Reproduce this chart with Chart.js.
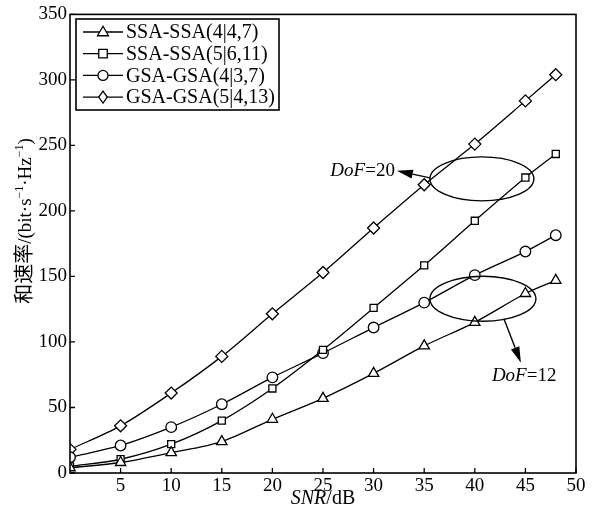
<!DOCTYPE html>
<html lang="zh">
<head>
  <meta charset="UTF-8" />
  <title>和速率 vs SNR</title>
  <script src="https://cdn.jsdelivr.net/npm/chart.js"></script>
  <style>
    body { margin: 0; background: white; }
    .wrap { width: 596px; height: 518px; }
  </style>
</head>
<body>
  <div class="wrap"><canvas id="rateChart" width="596" height="518"></canvas></div>

  <script>
    // data
    const snr = [0, 5, 10, 15, 20, 25, 30, 35, 40, 45, 48];
    const ssa447 = [4, 8, 15.5, 24, 41, 57, 76, 97, 115, 137, 147];
    const ssa5611 = [5, 10.5, 22, 40, 64.5, 94, 126, 158.5, 192.5, 225.5, 243.5];
    const gsa437 = [12, 21, 35, 52.5, 73, 91.5, 111, 130, 151, 169, 181.5];
    const gsa5413 = [18, 36, 61, 89, 121.5, 153, 187, 220, 251, 284, 304];
    const seriesNames = ['SSA-SSA(4|4,7)', 'SSA-SSA(5|6,11)', 'GSA-GSA(4|3,7)', 'GSA-GSA(5|4,13)'];
    const markers = ['triangle', 'rect', 'circle', 'rectRot'];
    const xTicks = [5, 10, 15, 20, 25, 30, 35, 40, 45, 50];
    const yTicks = [0, 50, 100, 150, 200, 250, 300, 350];

    const serif = '"Liberation Serif", "Times New Roman", serif';
    const cjk = '"Noto Sans CJK SC", serif';

    function pts(ys) { return snr.map((x, i) => ({ x: x, y: ys[i] })); }

    function drawMarker(ctx, style, x, y, r) {
      ctx.beginPath();
      if (style === 'triangle') {
        ctx.moveTo(x, y - r * 1.15);
        ctx.lineTo(x + r * 1.1, y + r * 0.75);
        ctx.lineTo(x - r * 1.1, y + r * 0.75);
        ctx.closePath();
      } else if (style === 'rect') {
        ctx.rect(x - r * 0.85, y - r * 0.85, r * 1.7, r * 1.7);
      } else if (style === 'circle') {
        ctx.arc(x, y, r, 0, Math.PI * 2);
      } else {
        ctx.moveTo(x, y - r * 1.2);
        ctx.lineTo(x + r * 0.85, y);
        ctx.lineTo(x, y + r * 1.2);
        ctx.lineTo(x - r * 0.85, y);
        ctx.closePath();
      }
      ctx.fillStyle = 'white';
      ctx.fill();
      ctx.stroke();
    }

    // draw a run of [text, font, dy] pieces
    function drawRuns(ctx, runs, x, y) {
      let cx = x;
      runs.forEach(r => {
        ctx.font = r[1];
        ctx.fillText(r[0], cx, y + (r[2] || 0));
        cx += ctx.measureText(r[0]).width;
      });
      return cx;
    }
    function runsWidth(ctx, runs) {
      let w = 0;
      runs.forEach(r => { ctx.font = r[1]; w += ctx.measureText(r[0]).width; });
      return w;
    }

    function arrow(ctx, x1, y1, x2, y2) {
      const a = Math.atan2(y2 - y1, x2 - x1);
      const hl = 16, hw = 4.5;
      const bx = x2 - hl * Math.cos(a), by = y2 - hl * Math.sin(a);
      ctx.beginPath();
      ctx.moveTo(x1, y1);
      ctx.lineTo(bx, by);
      ctx.stroke();
      ctx.beginPath();
      ctx.moveTo(x2, y2);
      ctx.lineTo(bx + hw * Math.sin(a), by - hw * Math.cos(a));
      ctx.lineTo(bx - hw * Math.sin(a), by + hw * Math.cos(a));
      ctx.closePath();
      ctx.fillStyle = 'black';
      ctx.fill();
    }

    const decor = {
      id: 'decor',
      afterDatasetsDraw(chart) {
        const ctx = chart.ctx;
        const a = chart.chartArea;
        const xs = chart.scales.x, ys = chart.scales.y;
        ctx.save();
        ctx.strokeStyle = 'black';
        ctx.fillStyle = 'black';

        // frame
        ctx.lineWidth = 1.6;
        ctx.strokeRect(a.left, a.top, a.right - a.left, a.bottom - a.top);

        // inward ticks
        ctx.lineWidth = 1.3;
        ctx.beginPath();
        xTicks.forEach(v => {
          const px = xs.getPixelForValue(v);
          ctx.moveTo(px, a.bottom);
          ctx.lineTo(px, a.bottom - 5);
        });
        yTicks.forEach(v => {
          const py = ys.getPixelForValue(v);
          ctx.moveTo(a.left, py);
          ctx.lineTo(a.left + 5, py);
        });
        ctx.stroke();

        // legend
        const lx = 76, ly = 19, lw = 203, lh = 91;
        ctx.fillStyle = 'white';
        ctx.fillRect(lx, ly, lw, lh);
        ctx.lineWidth = 1.6;
        ctx.strokeRect(lx, ly, lw, lh);
        ctx.lineWidth = 1.3;
        seriesNames.forEach((name, i) => {
          const y = 32 + i * 21.7;
          ctx.beginPath();
          ctx.moveTo(83, y);
          ctx.lineTo(123, y);
          ctx.stroke();
          drawMarker(ctx, markers[i], 103, y, 5);
          ctx.fillStyle = 'black';
          ctx.font = '20px ' + serif;
          ctx.textBaseline = 'middle';
          ctx.textAlign = 'left';
          ctx.fillText(name, 126, y + 1);
        });

        // annotations: ellipses, arrows, DoF labels
        ctx.lineWidth = 1.4;
        const e1x = xs.getPixelForValue(40.7), e1y = ys.getPixelForValue(224.5);
        ctx.beginPath();
        ctx.ellipse(e1x, e1y, 52, 22, 0, 0, Math.PI * 2);
        ctx.stroke();
        arrow(ctx, e1x - 52, e1y - 1, e1x - 85, e1y - 8);
        const e2x = xs.getPixelForValue(40.8), e2y = ys.getPixelForValue(133);
        ctx.beginPath();
        ctx.ellipse(e2x, e2y, 53, 22.5, 0, 0, Math.PI * 2);
        ctx.stroke();
        arrow(ctx, e2x + 21, e2y + 20, e2x + 38, e2y + 64);

        ctx.textBaseline = 'middle';
        ctx.fillStyle = 'black';
        const dof20 = [['DoF', 'italic 19px ' + serif], ['=20', '19px ' + serif]];
        drawRuns(ctx, dof20, e1x - 87 - runsWidth(ctx, dof20), e1y - 8);
        const dof12 = [['DoF', 'italic 19px ' + serif], ['=12', '19px ' + serif]];
        drawRuns(ctx, dof12, e2x + 9, e2y + 77);

        // axis titles
        const xt = [['SNR', 'italic 20px ' + serif], ['/dB', '20px ' + serif]];
        ctx.textBaseline = 'alphabetic';
        drawRuns(ctx, xt, (a.left + a.right) / 2 - runsWidth(ctx, xt) / 2, 504);

        const f = '19px ' + serif, fs = '12px ' + serif;
        const yt = [['和速率', '20px ' + cjk], ['/(bit·s', f], ['−1', fs, -8], ['·Hz', f], ['−1', fs, -8], [')', f]];
        ctx.translate(31, 221);
        ctx.rotate(-Math.PI / 2);
        drawRuns(ctx, yt, -runsWidth(ctx, yt) / 2, 0);
        ctx.restore();
      }
    };

    const datasets = [ssa447, ssa5611, gsa437, gsa5413].map((ys, i) => ({
      label: seriesNames[i],
      data: pts(ys),
      borderColor: 'black',
      borderWidth: 1.3,
      pointStyle: markers[i],
      pointRadius: markers[i] === 'rect' ? 5 : (markers[i] === 'circle' ? 5.3 : 6),
      pointBackgroundColor: 'white',
      pointBorderColor: 'black',
      pointBorderWidth: 1.3,
      tension: 0.3,
      fill: false
    }));

    new Chart(document.getElementById('rateChart'), {
      type: 'line',
      data: { datasets: datasets },
      options: {
        responsive: false,
        animation: false,
        layout: { padding: { top: 13, right: 20, left: 0, bottom: 0 } },
        plugins: { legend: { display: false }, tooltip: { enabled: false } },
        scales: {
          x: {
            type: 'linear', min: 0, max: 50,
            afterBuildTicks: s => { s.ticks = xTicks.map(v => ({ value: v })); },
            afterFit: s => { s.height = 45; },
            grid: { display: false, drawTicks: false },
            border: { display: false },
            ticks: { color: 'black', font: { family: serif, size: 19 }, padding: 2, maxRotation: 0 }
          },
          y: {
            min: 0, max: 350,
            afterBuildTicks: s => { s.ticks = yTicks.map(v => ({ value: v })); },
            afterFit: s => { s.width = 70; },
            grid: { display: false, drawTicks: false },
            border: { display: false },
            ticks: { color: 'black', font: { family: serif, size: 19 }, padding: 3 }
          }
        }
      },
      plugins: [decor]
    });
  </script>
</body>
</html>
